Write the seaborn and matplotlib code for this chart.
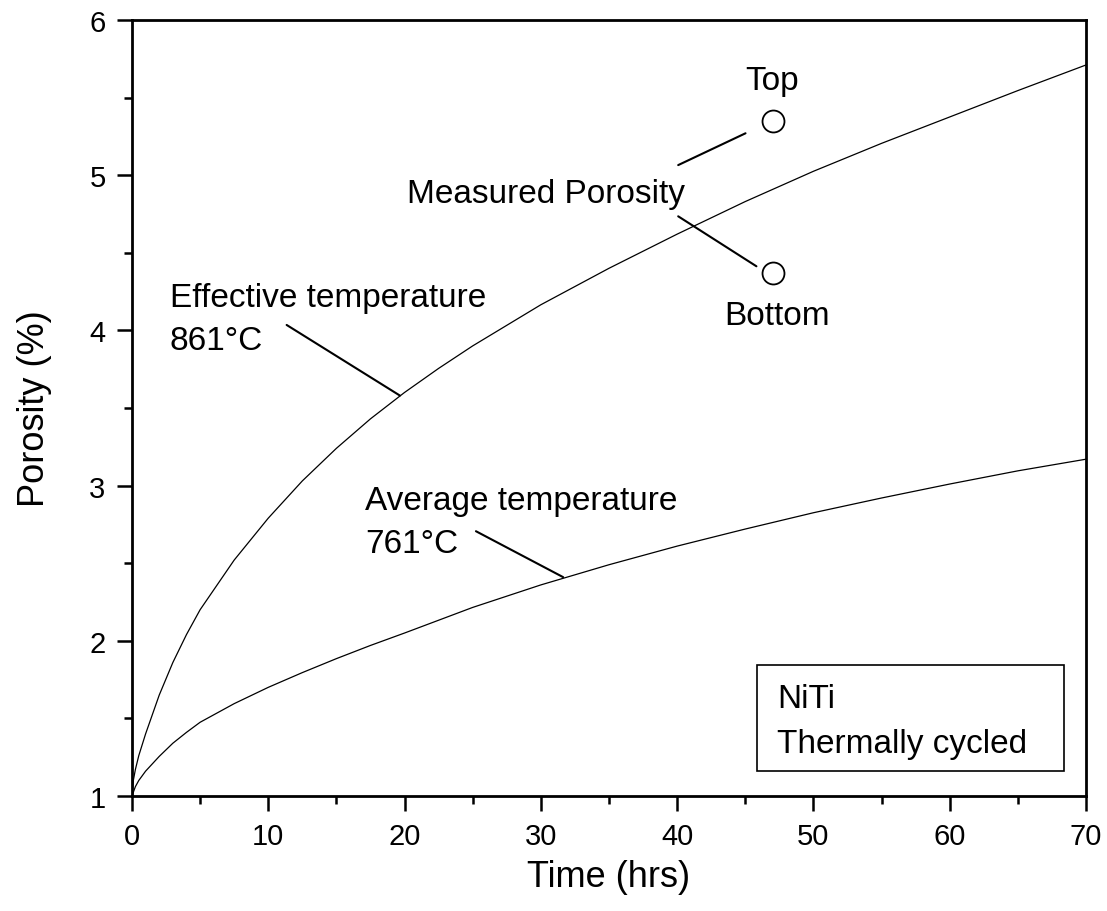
import matplotlib
matplotlib.use("Agg")
import matplotlib.pyplot as plt
from matplotlib.patches import Rectangle
from matplotlib.ticker import MultipleLocator
import pandas as pd
import seaborn as sns

# Porosity growth curves for thermally cycled NiTi
eff_time = [0, 0.1, 0.25, 0.5, 1, 2, 3, 4, 5, 7.5, 10, 12.5, 15, 17.5, 20,
            22.5, 25, 30, 35, 40, 45, 50, 55, 60, 65, 70]
eff_porosity = [1.00, 1.10, 1.17, 1.26, 1.40, 1.65, 1.86, 2.04, 2.20, 2.52,
                2.79, 3.03, 3.24, 3.43, 3.60, 3.755, 3.90, 4.165, 4.40, 4.62,
                4.83, 5.025, 5.205, 5.375, 5.545, 5.71]

avg_time = [0, 0.25, 0.5, 1, 2, 3, 4, 5, 7.5, 10, 12.5, 15, 17.5, 20, 25,
            30, 35, 40, 45, 50, 55, 60, 65, 70]
avg_porosity = [1.00, 1.06, 1.10, 1.16, 1.255, 1.34, 1.41, 1.475, 1.595,
                1.70, 1.795, 1.885, 1.97, 2.05, 2.215, 2.36, 2.49, 2.61,
                2.72, 2.825, 2.92, 3.01, 3.095, 3.17]

# Measured porosity (top and bottom of the specimen)
meas_labels = ["Top", "Bottom"]
meas_time = [47, 47]
meas_porosity = [5.35, 4.37]

sns.set_theme(style="white")
plt.rcParams["font.family"] = ["Liberation Sans", "DejaVu Sans"]
plt.rcParams["text.color"] = "black"
plt.rcParams["axes.labelcolor"] = "black"
plt.rcParams["xtick.color"] = "black"
plt.rcParams["ytick.color"] = "black"

fig = plt.figure(figsize=(11.07, 9.12), dpi=100)
ax = fig.add_axes([0.1192, 0.1261, 0.8618, 0.8509])

eff_df = pd.DataFrame({"time": eff_time, "porosity": eff_porosity})
avg_df = pd.DataFrame({"time": avg_time, "porosity": avg_porosity})
meas_df = pd.DataFrame({"time": meas_time, "porosity": meas_porosity,
                        "position": meas_labels})

sns.lineplot(data=eff_df, x="time", y="porosity", ax=ax, color="black",
             linewidth=0.9, sort=True, estimator=None)
sns.lineplot(data=avg_df, x="time", y="porosity", ax=ax, color="black",
             linewidth=0.9, sort=True, estimator=None)
sns.scatterplot(data=meas_df, x="time", y="porosity", ax=ax, marker="o",
                s=250, facecolor="white", edgecolor="black", linewidth=1.3,
                zorder=5)

ax.set_xlim(0, 70)
ax.set_ylim(1, 6)
ax.xaxis.set_major_locator(MultipleLocator(10))
ax.xaxis.set_minor_locator(MultipleLocator(5))
ax.yaxis.set_major_locator(MultipleLocator(1))
ax.yaxis.set_minor_locator(MultipleLocator(0.5))

for side in ["left", "right", "top", "bottom"]:
    ax.spines[side].set_visible(True)
    ax.spines[side].set_color("black")
    ax.spines[side].set_linewidth(2.0)

ax.tick_params(axis="both", which="major", direction="out", length=11,
               width=1.8, color="black", labelcolor="black", labelsize=21,
               pad=8, bottom=True, left=True, top=False, right=False)
ax.tick_params(axis="both", which="minor", direction="out", length=6,
               width=1.8, color="black", bottom=True, left=True,
               top=False, right=False)

ax.set_xlabel("Time (hrs)", fontsize=26, labelpad=6, color="black")
ax.set_ylabel("Porosity (%)", fontsize=26, labelpad=27, color="black")

fs = 24
# Curve labels with leader lines
ax.text(2.79, 4.159, "Effective temperature", fontsize=fs, va="baseline")
ax.text(2.79, 3.88, "861°C", fontsize=fs, va="baseline")
ax.plot([11.35, 19.66], [4.035, 3.58], color="black", lw=1.5)

ax.text(17.1, 2.849, "Average temperature", fontsize=fs, va="baseline")
ax.text(17.1, 2.570, "761°C", fontsize=fs, va="baseline")
ax.plot([25.24, 31.64], [2.706, 2.41], color="black", lw=1.5)

ax.text(20.15, 4.827, "Measured Porosity", fontsize=fs, va="baseline")
ax.plot([40.08, 45.02], [5.065, 5.27], color="black", lw=1.5)
ax.plot([40.08, 45.82], [4.735, 4.413], color="black", lw=1.5)
ax.text(46.95, 5.555, meas_labels[0], fontsize=fs, ha="center", va="baseline")
ax.text(47.3, 4.041, meas_labels[1], fontsize=fs, ha="center", va="baseline")

# Specimen description box
ax.add_patch(Rectangle((45.88, 1.163), 22.5, 0.683, fill=False,
                       edgecolor="black", linewidth=1.2, zorder=4))
ax.text(47.34, 1.571, "NiTi", fontsize=fs, va="baseline")
ax.text(47.34, 1.282, "Thermally cycled", fontsize=fs, va="baseline")

fig.savefig("out.png", dpi=100, facecolor="white")
